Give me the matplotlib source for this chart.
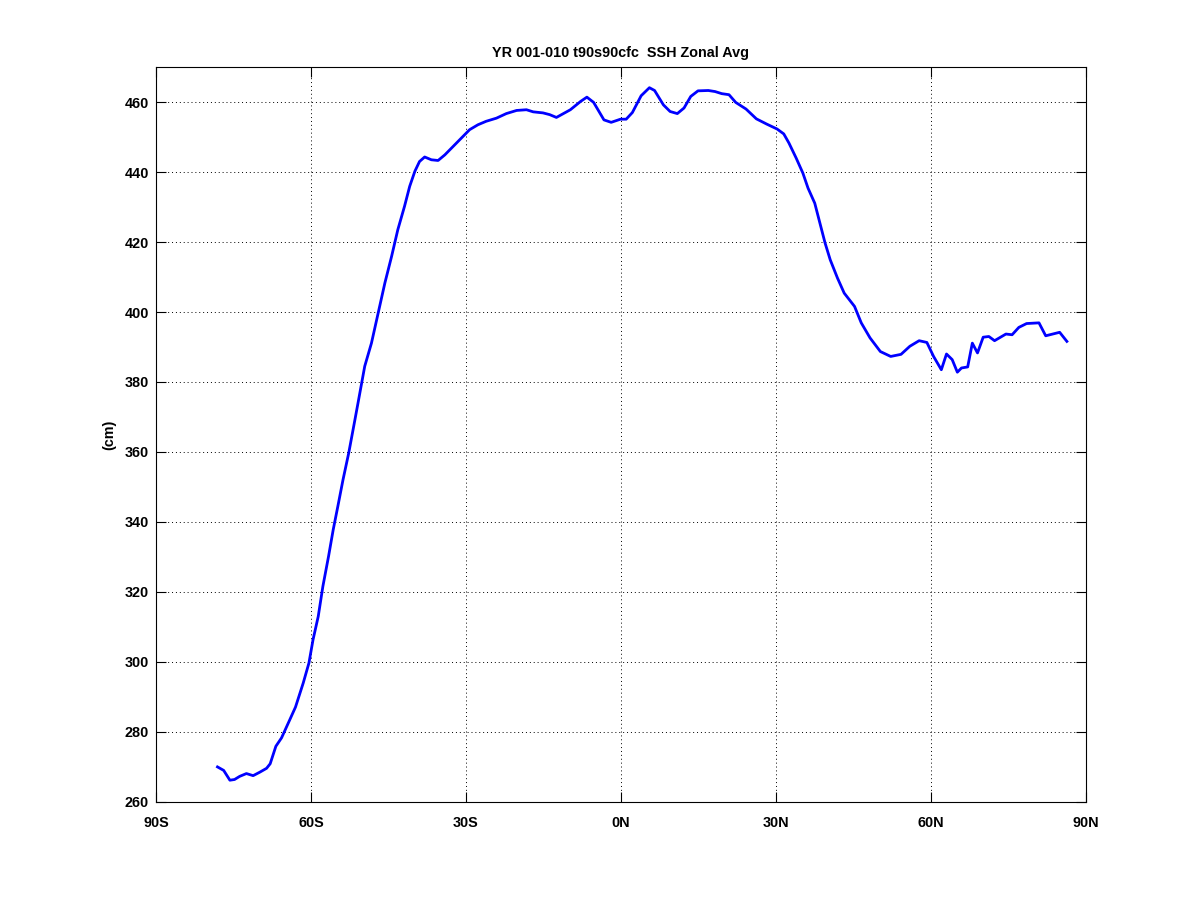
import numpy as np
import matplotlib
matplotlib.use("Agg")
import matplotlib.pyplot as plt

plt.rcParams['font.family'] = ['Liberation Sans', 'DejaVu Sans']

# zonal average of SSH
lat = [-78.1, -76.9, -75.7, -74.8, -73.8, -72.5, -71.2, -69.9, -68.6, -67.9,
       -66.8, -65.7, -64.1, -63.0, -61.5, -60.4, -59.6, -58.6, -57.7, -56.6,
       -55.7, -54.8, -53.8, -52.7, -51.5, -50.9, -49.6, -48.3, -47.0, -45.7,
       -44.4, -43.2, -41.9, -40.9, -39.9, -39.0, -38.0, -36.7, -35.4, -34.1,
       -32.5, -30.9, -29.3, -27.7, -26.1, -24.1, -22.2, -20.2, -18.3, -17.0,
       -15.1, -13.8, -12.5, -9.8, -7.8, -6.6, -5.3, -3.3, -1.9, -0.1,
       1.0, 2.2, 3.9, 5.5, 6.5, 8.2, 9.5, 10.9, 12.2, 13.5,
       14.9, 16.9, 18.2, 19.5, 20.9, 22.2, 24.2, 26.2, 28.2, 30.2,
       31.5, 32.5, 33.9, 35.2, 36.2, 37.5, 38.5, 39.5, 40.5, 41.9,
       43.2, 45.2, 46.5, 48.2, 50.2, 52.2, 54.2, 55.9, 57.7, 59.2,
       60.5, 62.0, 63.0, 64.1, 65.1, 65.9, 67.1, 68.0, 69.0, 70.1,
       71.2, 72.3, 74.5, 75.7, 77.0, 78.5, 80.9, 82.2, 84.9, 86.3]
ssh = [270.0, 269.0, 266.2, 266.4, 267.3, 268.1, 267.5, 268.5, 269.6, 270.9,
       275.9, 278.3, 283.5, 287.1, 294.0, 299.7, 306.4, 313.0, 321.6, 330.2,
       337.8, 344.5, 352.1, 359.7, 369.2, 374.0, 384.5, 391.1, 399.7, 408.3,
       415.9, 423.5, 430.2, 435.9, 440.2, 443.0, 444.3, 443.5, 443.3, 444.9,
       447.3, 449.7, 452.1, 453.5, 454.5, 455.4, 456.7, 457.6, 457.8, 457.2,
       456.9, 456.4, 455.6, 457.8, 460.2, 461.4, 459.9, 454.9, 454.2, 455.1,
       455.1, 457.0, 461.8, 464.1, 463.3, 459.2, 457.3, 456.7, 458.3, 461.6,
       463.2, 463.3, 463.0, 462.4, 462.1, 459.9, 458.0, 455.2, 453.7, 452.3,
       450.9, 448.3, 444.0, 439.7, 435.4, 431.1, 425.4, 419.7, 414.9, 409.7,
       405.4, 401.6, 396.9, 392.6, 388.7, 387.3, 387.9, 390.2, 391.8, 391.3,
       387.3, 383.5, 388.0, 386.4, 382.8, 384.0, 384.3, 391.1, 388.3, 392.8,
       393.0, 391.8, 393.7, 393.5, 395.6, 396.7, 396.9, 393.2, 394.2, 391.6]

xticks = [-90, -60, -30, 0, 30, 60, 90]
xticklabels = ['90S', '60S', '30S', '0N', '30N', '60N', '90N']
yticks = [260, 280, 300, 320, 340, 360, 380, 400, 420, 440, 460]

fs = 10.4

fig = plt.figure(figsize=(12, 9), dpi=100)
ax = fig.add_axes([0.13, 0.109, 0.775, 0.8165])
ax.plot(lat, ssh, color='#0000ff', linewidth=2.0)

ax.set_xlim(-90, 90)
ax.set_ylim(260, 470)
ax.set_xticks(xticks)
ax.set_xticklabels(xticklabels)
ax.set_yticks(yticks)
ax.tick_params(direction='in', length=7, width=0.8, top=True, right=True,
               labelsize=fs)
ax.tick_params(axis='x', pad=10.5)
ax.tick_params(axis='y', pad=5)
for lbl in ax.get_xticklabels() + ax.get_yticklabels():
    lbl.set_fontweight('bold')
ax.grid(True, linestyle=(0, (1, 3)), color='black', linewidth=0.7)
for s in ax.spines.values():
    s.set_linewidth(0.8)

ax.set_ylabel('(cm)', fontsize=fs, fontweight='bold', labelpad=6)
ax.set_title('YR 001-010 t90s90cfc  SSH Zonal Avg', fontsize=fs,
             fontweight='bold', pad=7)

plt.savefig('out.png', dpi=100)
